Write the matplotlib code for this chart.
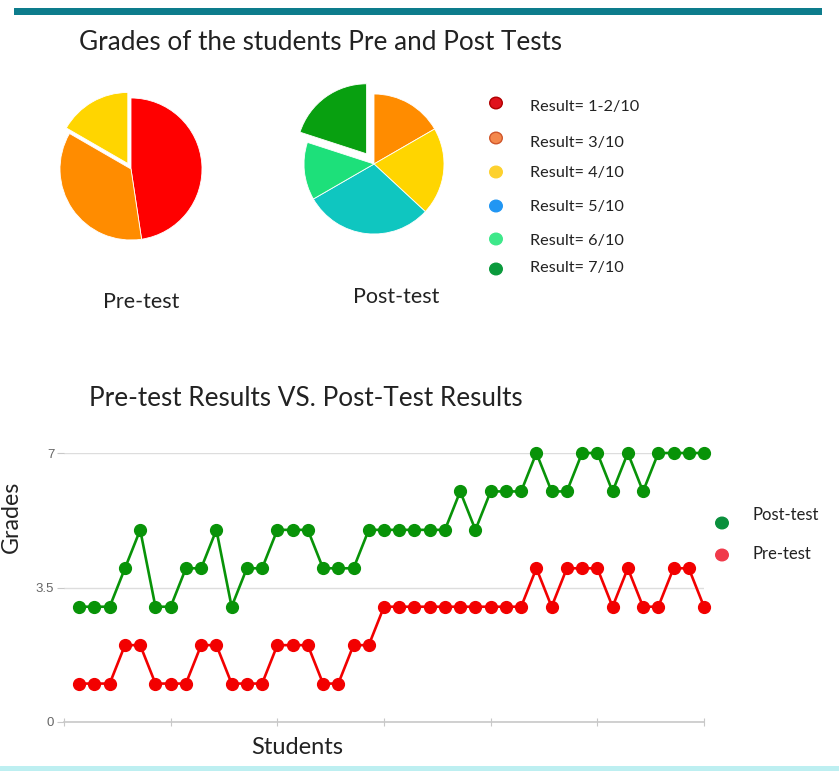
import matplotlib.pyplot as plt
import numpy as np

plt.rcParams['font.family'] = ['Lato', 'DejaVu Sans']

# pie data (number of students per grade)
pre_counts = [20, 15, 7]
pre_colors = ['#ff0000', '#ff8c00', '#ffd500']
post_counts = [7, 8.5, 12.5, 5.6, 8.4]
post_colors = ['#ff8c00', '#ffd500', '#0fc6c0', '#1de07a', '#08a010']

legend_labels = ['Result= 1-2/10', 'Result= 3/10', 'Result= 4/10',
                 'Result= 5/10', 'Result= 6/10', 'Result= 7/10']
legend_colors = ['#e0121c', '#f4884c', '#fdd12e', '#2196f3', '#3ee88a', '#0a9a3c']
legend_edges = ['#b00000', '#d0562a', '#fdd12e', '#2196f3', '#3ee88a', '#0a9a3c']

# grades per student
pre_test = [1, 1, 1, 2, 2, 1, 1, 1, 2, 2, 1, 1, 1, 2, 2, 2, 1, 1, 2, 2, 3,
            3, 3, 3, 3, 3, 3, 3, 3, 3, 4, 3, 4, 4, 4, 3, 4, 3, 3, 4, 4, 3]
post_test = [3, 3, 3, 4, 5, 3, 3, 4, 4, 5, 3, 4, 4, 5, 5, 5, 4, 4, 4, 5, 5,
             5, 5, 5, 5, 6, 5, 6, 6, 6, 7, 6, 6, 7, 7, 6, 7, 6, 7, 7, 7, 7]
students = np.arange(1, len(pre_test) + 1)

W, H = 839, 772
fig = plt.figure(figsize=(W / 100, H / 100), dpi=100)


def px_axes(x0, y0, x1, y1):
    # pixel box (top-left origin) -> figure axes
    return fig.add_axes([x0 / W, 1 - y1 / H, (x1 - x0) / W, (y1 - y0) / H])


# top bar and bottom line
bar = px_axes(14, 8, 822, 15)
bar.axis('off')
bar.add_patch(plt.Rectangle((0, 0), 1, 1, color='#0d7c8c', transform=bar.transAxes))
bot = px_axes(0, 766, W, 771)
bot.axis('off')
bot.add_patch(plt.Rectangle((0, 0), 1, 1, color='#bdeff1', transform=bot.transAxes))

fig.text(79 / W, 1 - 43 / H, 'Grades of the students Pre and Post Tests',
         fontsize=18.8, color='#222222', va='center')

# pies
def draw_pie(cx, cy, r, counts, colors, explode):
    ax = px_axes(cx - 1.3 * r, cy - 1.3 * r, cx + 1.3 * r, cy + 1.3 * r)
    ax.pie(counts, colors=colors, startangle=90, counterclock=False,
           explode=explode, wedgeprops=dict(edgecolor='white', linewidth=0.6))
    ax.set_xlim(-1.3, 1.3)
    ax.set_ylim(-1.3, 1.3)
    ax.set_aspect('equal')
    ax.axis('off')


draw_pie(131, 169, 71, pre_counts, pre_colors, [0, 0, 0.09])
draw_pie(374, 164, 70, post_counts, post_colors, [0, 0, 0, 0, 0.18])

fig.text(141 / W, 1 - 302 / H, 'Pre-test', fontsize=15.5, color='#222222',
         ha='center', va='center')
fig.text(396 / W, 1 - 297 / H, 'Post-test', fontsize=15.5, color='#222222',
         ha='center', va='center')

# pie legend
leg_y = [103, 138, 172, 206, 239, 269]
txt_y = [107, 143, 173, 207, 241, 268]
for lab, c, ec, yd, yt in zip(legend_labels, legend_colors, legend_edges, leg_y, txt_y):
    fig.patches.append(plt.Circle((496 / W, 1 - yd / H), 0.0075, color=c, ec=ec,
                                  transform=fig.transFigure, figure=fig))
    fig.text(530 / W, 1 - yt / H, lab, fontsize=11.7, color='#222222', va='center')

fig.text(89 / W, 1 - 398 / H, 'Pre-test Results VS. Post-Test Results',
         fontsize=18.8, color='#222222', va='center')

# line chart
ax = px_axes(64, 453, 704, 722)
ax.plot(students, post_test, '-o', color='#089308', lw=1.9, ms=8.5, clip_on=False, zorder=3)
ax.plot(students, pre_test, '-o', color='#f20000', lw=1.9, ms=8.5, clip_on=False, zorder=3)
ax.set_xlim(0, 42)
ax.set_ylim(0, 7)
ax.set_yticks([0, 3.5, 7])
ax.set_yticklabels(['0', '3.5', '7'], family='Liberation Sans')
ax.set_xticks([0, 7, 14, 21, 28, 35, 42])
ax.set_xticklabels([])
ax.grid(axis='y', color='#dddddd', lw=1)
for s in ['top', 'right', 'left']:
    ax.spines[s].set_visible(False)
ax.spines['bottom'].set_color('#c8c8c8')
ax.spines['bottom'].set_linewidth(1.2)
ax.tick_params(axis='y', length=5, color='#c8c8c8', labelsize=9.5, labelcolor='#666666', pad=2)
ax.tick_params(axis='x', length=6, direction='inout', color='#c8c8c8')

fig.text(297 / W, 1 - 747 / H, 'Students', fontsize=17, color='#222222',
         ha='center', va='center')
fig.text(11 / W, 1 - 517 / H, 'Grades', fontsize=16.7, color='#222222',
         ha='center', va='center', rotation=90)

# line legend
for yd, c in [(523, '#0a8f3c'), (555, '#f03a4a')]:
    fig.patches.append(plt.Circle((722 / W, 1 - yd / H), 0.0075, color=c,
                                  transform=fig.transFigure, figure=fig))
fig.text(752 / W, 1 - 515 / H, 'Post-test', fontsize=12, color='#222222', va='center')
fig.text(752 / W, 1 - 554 / H, 'Pre-test', fontsize=12, color='#222222', va='center')

fig.savefig('out.png', dpi=100)
